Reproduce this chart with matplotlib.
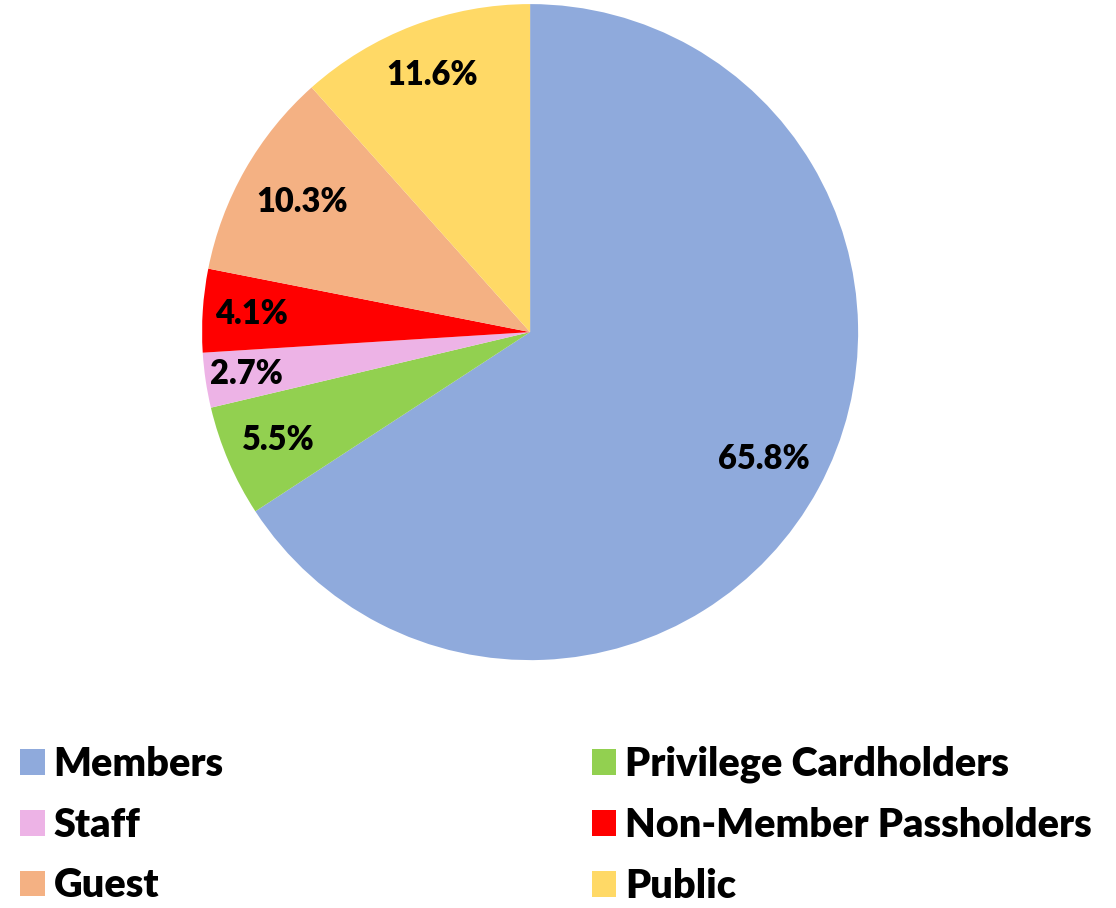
import matplotlib
matplotlib.use("Agg")
import matplotlib.pyplot as plt

# ----------------- Data -----------------
categories = ['Members', 'Privilege Cardholders', 'Staff',
              'Non-Member Passholders', 'Guest', 'Public']
shares = [65.8, 5.5, 2.7, 4.1, 10.3, 11.6]
colors = ['#8FAADC', '#92D050', '#EDB3E6', '#FF0000', '#F4B183', '#FFD966']
label_dist = [0.81, 0.835, 0.875, 0.85, 0.80, 0.84]

plt.rcParams['font.family'] = ['Lato', 'DejaVu Sans']
plt.rcParams['font.weight'] = 'heavy'

fig = plt.figure(figsize=(11.16, 9.08), dpi=100)
ax = fig.add_axes([0.181, 0.273, 0.588, 0.7225])

wedges, texts, autotexts = ax.pie(
    shares, colors=colors, startangle=90, counterclock=False,
    autopct='%1.1f%%', pctdistance=0.82, radius=1,
    wedgeprops=dict(linewidth=0),
    textprops=dict(fontsize=23.5, fontweight='heavy', color='black'))

# nudge labels to Excel's best-fit positions
for t, d in zip(autotexts, label_dist):
    x, y = t.get_position()
    s = d / 0.82
    t.set_position((x * s, y * s))

ax.set_xlim(-1, 1)
ax.set_ylim(-1, 1)
ax.set_aspect('equal')

order = [0, 2, 4, 1, 3, 5]
fig.legend([wedges[i] for i in order], [categories[i] for i in order],
           ncol=2, loc='upper left', bbox_to_anchor=(0.004, 0.196),
           frameon=False, fontsize=28.5, handlelength=0.62, handleheight=0.62,
           handletextpad=0.22, labelspacing=0.60, columnspacing=9.3,
           borderaxespad=0)

fig.savefig('out.png', dpi=100)
